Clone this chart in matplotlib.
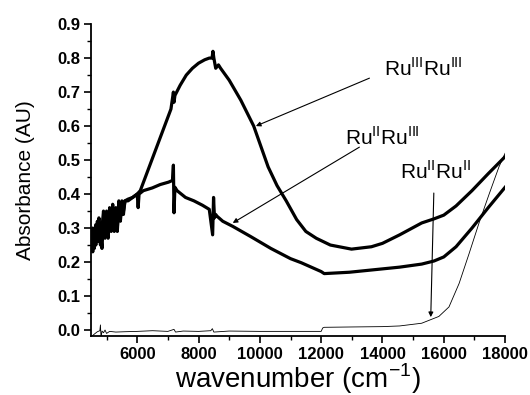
import numpy as np
import matplotlib.pyplot as plt
from matplotlib.ticker import MultipleLocator, FormatStrFormatter

# values (wavenumber in cm-1, absorbance in AU)
wn_33 = [4500, 4550, 4600, 4650, 4700, 4750, 4800, 4850, 4900, 4950, 5000, 5050,
         5100, 5150, 5200, 5250, 5300, 5350, 5400, 5450, 5500, 5550, 5600, 5700,
         5850, 6000, 6100, 6350, 6600, 6850, 7100, 7180, 7200, 7230, 7400, 7600,
         7800, 8000, 8200, 8350, 8440, 8470, 8500, 8560, 8650, 8720, 9000, 9380,
         9800, 10270, 10560, 10860, 11200, 11500, 11840, 12300, 12990, 13640,
         14000, 14560, 15280, 15680, 16000, 16400, 16920, 17450, 18000]
abs_33 = [0.25, 0.30, 0.24, 0.31, 0.27, 0.33, 0.25, 0.30, 0.35, 0.27, 0.34, 0.28,
          0.36, 0.29, 0.37, 0.31, 0.35, 0.29, 0.37, 0.33, 0.38, 0.35, 0.38, 0.385,
          0.39, 0.40, 0.41, 0.47, 0.53, 0.59, 0.65, 0.70, 0.67, 0.69, 0.72, 0.75,
          0.77, 0.785, 0.795, 0.80, 0.80, 0.82, 0.80, 0.77, 0.78, 0.77, 0.735,
          0.676, 0.60, 0.48, 0.425, 0.38, 0.325, 0.29, 0.27, 0.25, 0.238, 0.245,
          0.255, 0.28, 0.315, 0.327, 0.338, 0.365, 0.41, 0.46, 0.51]

wn_23 = [4500, 4550, 4600, 4650, 4700, 4750, 4800, 4850, 4900, 4950, 5000, 5050,
         5100, 5150, 5200, 5250, 5300, 5350, 5400, 5450, 5500, 5550, 5600, 5700,
         5850, 6000, 6030, 6060, 6200, 6490, 6750, 7020, 7150, 7180, 7200, 7230,
         7300, 7575, 7850, 8130, 8350, 8460, 8490, 8520, 8560, 8600, 8790, 9115,
         9700, 10360, 11000, 11350, 12000, 12100, 12920, 14560, 15280, 15680,
         16000, 16400, 16920, 17450, 18000]
abs_23 = [0.27, 0.23, 0.29, 0.25, 0.32, 0.26, 0.29, 0.24, 0.33, 0.28, 0.35, 0.27,
          0.34, 0.30, 0.36, 0.29, 0.36, 0.30, 0.38, 0.32, 0.37, 0.34, 0.38, 0.38,
          0.39, 0.40, 0.36, 0.40, 0.41, 0.418, 0.428, 0.435, 0.44, 0.485, 0.345,
          0.42, 0.41, 0.39, 0.38, 0.367, 0.355, 0.28, 0.39, 0.33, 0.34, 0.335,
          0.32, 0.305, 0.275, 0.24, 0.21, 0.198, 0.172, 0.166, 0.17, 0.185, 0.194,
          0.203, 0.215, 0.245, 0.30, 0.36, 0.42]

wn_22 = [4500, 4600, 4700, 4780, 4800, 4820, 4850, 4900, 4950, 5000, 5100, 5300,
         5600, 6000, 6500, 7000, 7200, 7250, 7500, 8000, 8400, 8450, 8500, 9000,
         10000, 11000, 12000, 12050, 12100, 13000, 14000, 14560, 15280, 15840,
         16170, 16500, 16830, 17150, 17480, 17800, 18000]
abs_22 = [-0.02, -0.012, -0.005, -0.002, 0.015, -0.024, -0.003, -0.008, 0.0,
          -0.01, -0.004, -0.006, -0.005, -0.004, -0.002, -0.004, 0.002, -0.006,
          -0.003, -0.004, -0.002, 0.004, -0.006, -0.003, -0.004, -0.004, -0.004,
          0.006, 0.008, 0.009, 0.010, 0.012, 0.02, 0.04, 0.068, 0.137, 0.226,
          0.315, 0.40, 0.48, 0.52]

plt.rcParams["font.family"] = ["Liberation Sans", "DejaVu Sans"]
plt.rcParams["mathtext.fontset"] = "custom"
plt.rcParams["mathtext.rm"] = "Liberation Sans"

fig = plt.figure(figsize=(5.3, 3.95), dpi=100)
ax = fig.add_axes([0.171, 0.149, 0.782, 0.790])

ax.plot(wn_33, abs_33, color="black", lw=2.3)
ax.plot(wn_23, abs_23, color="black", lw=2.3)
ax.plot(wn_22, abs_22, color="black", lw=0.6)

ax.set_xlim(4480, 18000)
ax.set_ylim(-0.018, 0.9)
ax.xaxis.set_major_locator(MultipleLocator(2000))
ax.xaxis.set_minor_locator(MultipleLocator(1000))
ax.yaxis.set_major_locator(MultipleLocator(0.1))
ax.yaxis.set_minor_locator(MultipleLocator(0.05))
ax.yaxis.set_major_formatter(FormatStrFormatter("%.1f"))
ax.tick_params(which="major", direction="out", length=5, width=1.2,
               labelsize=12, pad=2.5)
ax.tick_params(which="minor", direction="out", length=3, width=1)
for lab in ax.get_xticklabels() + ax.get_yticklabels():
    lab.set_fontweight("bold")
for side in ["top", "right"]:
    ax.spines[side].set_visible(False)
for side in ["left", "bottom"]:
    ax.spines[side].set_linewidth(1.3)

ax.set_xlabel("wavenumber (cm$^{-1}$)", fontsize=20, labelpad=0)
ax.set_ylabel("Absorbance (AU)", fontsize=15, labelpad=16)

arrow = dict(arrowstyle="-|>", color="black", lw=0.8, mutation_scale=7,
             shrinkA=0, shrinkB=0)
ax.annotate("", xy=(9870, 0.60), xytext=(13575, 0.741), arrowprops=arrow)
ax.annotate("", xy=(9115, 0.315), xytext=(13247, 0.538), arrowprops=arrow)
ax.annotate("", xy=(15575, 0.038), xytext=(15675, 0.403), arrowprops=arrow)

ax.text(14035, 0.768, "Ru$^{\\mathrm{III}}$Ru$^{\\mathrm{III}}$", fontsize=15,
        ha="left", va="center")
ax.text(12788, 0.565, "Ru$^{\\mathrm{II}}$Ru$^{\\mathrm{III}}$", fontsize=15,
        ha="left", va="center")
ax.text(14560, 0.465, "Ru$^{\\mathrm{II}}$Ru$^{\\mathrm{II}}$", fontsize=15,
        ha="left", va="center")

fig.savefig("out.png", dpi=100)
